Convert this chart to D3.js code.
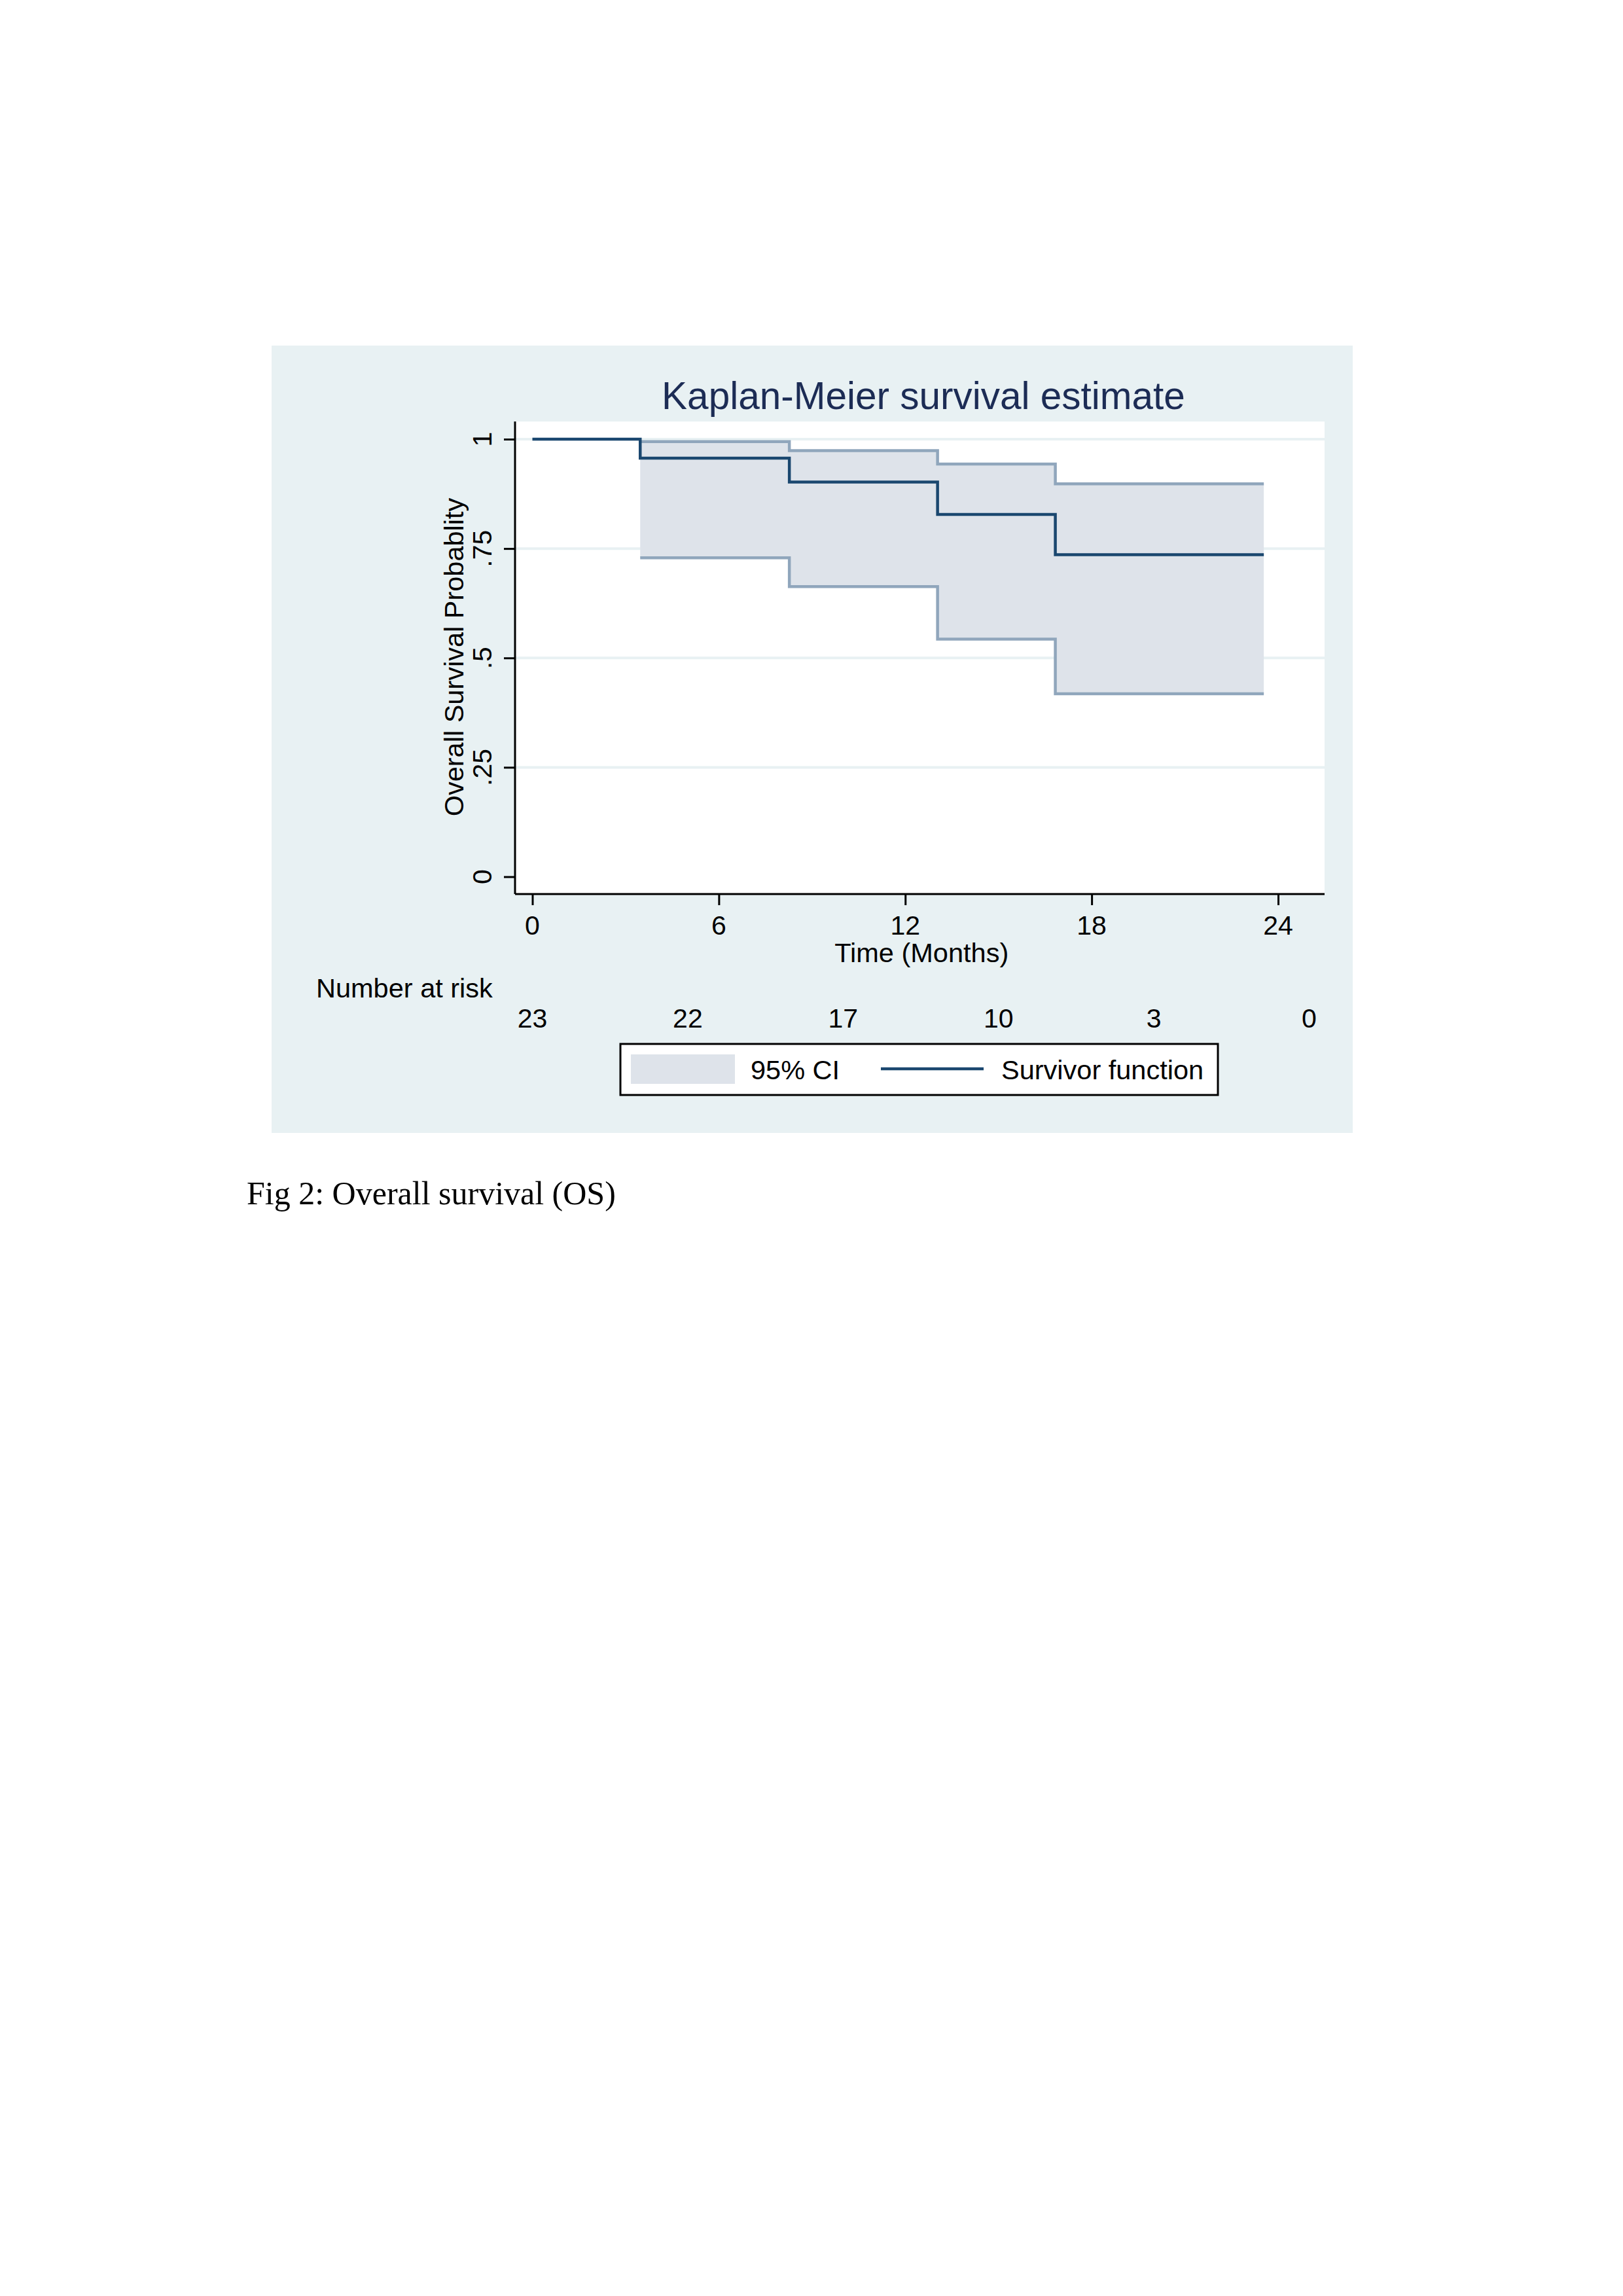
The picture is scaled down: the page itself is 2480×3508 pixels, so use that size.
<!DOCTYPE html>
<html>
<head>
<meta charset="utf-8">
<script src="https://cdn.jsdelivr.net/npm/d3@7"></script>
<style>
  html, body { margin: 0; padding: 0; background: #ffffff; }
  svg { display: block; }
  text { font-family: "Liberation Sans", Arial, sans-serif; }
  text.caption { font-family: "Liberation Serif", "Times New Roman", serif; }
</style>
</head>
<body>
<div id="chart"></div>
<script>
// Kaplan-Meier estimate
const stepTimes = [0, 3.47, 8.27, 13.04, 16.83, 23.54];
const survival = [1, 0.9566, 0.902, 0.828, 0.736, 0.736];
const ciTimes = [3.47, 8.27, 13.04, 16.83, 23.54];
const ciUpper = [0.9945, 0.974, 0.943, 0.898, 0.898];
const ciLower = [0.729, 0.663, 0.543, 0.418, 0.418];
const xTicks = [0, 6, 12, 18, 24];
const yTicks = [0, 0.25, 0.5, 0.75, 1];
const yTickLabels = ["0", ".25", ".5", ".75", "1"];
const riskTimes = [0, 5, 10, 15, 20, 25];
const riskCounts = [23, 22, 17, 10, 3, 0];

const width = 2480, height = 3508;
const panelColor = "#e8f1f3";
const navy = "#1a476f";
const ciLine = "#90a6bc";
const ciFill = "#dee3ea";

const svg = d3.select("#chart")
    .append("svg")
    .attr("width", width)
    .attr("height", height);

// Outer graph region
svg.append("rect")
    .attr("x", 415).attr("y", 528)
    .attr("width", 1652).attr("height", 1203)
    .attr("fill", panelColor);

// Plot region
const plot = { left: 787, right: 2024, top: 644, bottom: 1366 };
svg.append("rect")
    .attr("x", plot.left).attr("y", plot.top)
    .attr("width", plot.right - plot.left)
    .attr("height", plot.bottom - plot.top)
    .attr("fill", "#ffffff");

const xScale = d3.scaleLinear().domain([0, 24]).range([813.5, 1953]);
const yScale = d3.scaleLinear().domain([0, 1]).range([1339.5, 671]);

// Gridlines
svg.append("g")
    .selectAll("line")
    .data(yTicks.filter(d => d > 0))
    .join("line")
    .attr("x1", plot.left).attr("x2", plot.right)
    .attr("y1", d => yScale(d)).attr("y2", d => yScale(d))
    .attr("stroke", panelColor)
    .attr("stroke-width", 4);

// Confidence band
const band = d3.area()
    .x((d, i) => xScale(ciTimes[i]))
    .y0((d, i) => yScale(ciLower[i]))
    .y1((d, i) => yScale(ciUpper[i]))
    .curve(d3.curveStepAfter);
svg.append("path")
    .datum(ciTimes)
    .attr("d", band)
    .attr("fill", ciFill);

const stepLine = (times, values) => d3.line()
    .x((d, i) => xScale(times[i]))
    .y((d, i) => yScale(values[i]))
    .curve(d3.curveStepAfter)(times);

[ciUpper, ciLower].forEach(vals => {
    svg.append("path")
        .attr("d", stepLine(ciTimes, vals))
        .attr("fill", "none")
        .attr("stroke", ciLine)
        .attr("stroke-width", 4.5);
});

// Survivor function
svg.append("path")
    .attr("d", stepLine(stepTimes, survival))
    .attr("fill", "none")
    .attr("stroke", navy)
    .attr("stroke-width", 4.5);

// Axes
const yAxis = svg.append("g")
    .attr("transform", `translate(${plot.left}, 0)`)
    .call(d3.axisLeft(yScale).tickValues(yTicks).tickSize(17).tickFormat(""));
yAxis.select(".domain")
    .attr("d", `M0,${plot.top}V${plot.bottom}`)
    .attr("stroke", "#000").attr("stroke-width", 3);
yAxis.selectAll(".tick line").attr("stroke", "#000").attr("stroke-width", 3);

const xAxis = svg.append("g")
    .attr("transform", `translate(0, ${plot.bottom})`)
    .call(d3.axisBottom(xScale).tickValues(xTicks).tickSize(17).tickFormat(""));
xAxis.select(".domain")
    .attr("d", `M${plot.left},0H${plot.right}`)
    .attr("stroke", "#000").attr("stroke-width", 3);
xAxis.selectAll(".tick line").attr("stroke", "#000").attr("stroke-width", 3);

// Y tick labels (rotated, Stata style)
svg.append("g")
    .selectAll("text")
    .data(yTicks)
    .join("text")
    .attr("transform", d => `translate(751, ${yScale(d)}) rotate(-90)`)
    .attr("text-anchor", "middle")
    .attr("font-size", 41)
    .attr("fill", "#000")
    .text((d, i) => yTickLabels[i]);

// X tick labels
svg.append("g")
    .selectAll("text")
    .data(xTicks)
    .join("text")
    .attr("x", d => xScale(d))
    .attr("y", 1428)
    .attr("text-anchor", "middle")
    .attr("font-size", 41)
    .attr("fill", "#000")
    .text(d => d);

// Axis titles
svg.append("text")
    .attr("transform", `translate(708, 1004) rotate(-90)`)
    .attr("text-anchor", "middle")
    .attr("font-size", 41.5)
    .attr("fill", "#000")
    .text("Overall Survival Probablity");

svg.append("text")
    .attr("x", xScale(12) + 25)
    .attr("y", 1470)
    .attr("text-anchor", "middle")
    .attr("font-size", 41.5)
    .attr("fill", "#000")
    .text("Time (Months)");

// Title
svg.append("text")
    .attr("x", 1411)
    .attr("y", 625)
    .attr("text-anchor", "middle")
    .attr("font-size", 58.5)
    .attr("fill", "#1c2c55")
    .text("Kaplan-Meier survival estimate");

// Number at risk
svg.append("text")
    .attr("x", 483)
    .attr("y", 1524)
    .attr("font-size", 41.5)
    .attr("fill", "#000")
    .text("Number at risk");

svg.append("g")
    .selectAll("text")
    .data(riskTimes)
    .join("text")
    .attr("x", d => xScale(d))
    .attr("y", 1570)
    .attr("text-anchor", "middle")
    .attr("font-size", 41)
    .attr("fill", "#000")
    .text((d, i) => riskCounts[i]);

// Legend
const legend = svg.append("g");
legend.append("rect")
    .attr("x", 948).attr("y", 1595)
    .attr("width", 913).attr("height", 78)
    .attr("fill", "#ffffff")
    .attr("stroke", "#000")
    .attr("stroke-width", 3);
legend.append("rect")
    .attr("x", 964).attr("y", 1611)
    .attr("width", 159).attr("height", 45)
    .attr("fill", ciFill);
legend.append("text")
    .attr("x", 1147).attr("y", 1649)
    .attr("font-size", 41.5)
    .attr("fill", "#000")
    .text("95% CI");
legend.append("line")
    .attr("x1", 1346).attr("x2", 1503)
    .attr("y1", 1633).attr("y2", 1633)
    .attr("stroke", navy)
    .attr("stroke-width", 4.5);
legend.append("text")
    .attr("x", 1530).attr("y", 1649)
    .attr("font-size", 41.5)
    .attr("fill", "#000")
    .text("Survivor function");

// Figure caption
svg.append("text")
    .attr("class", "caption")
    .attr("x", 377)
    .attr("y", 1840)
    .attr("font-size", 50)
    .attr("fill", "#000")
    .text("Fig 2: Overall survival (OS)");
</script>
</body>
</html>
